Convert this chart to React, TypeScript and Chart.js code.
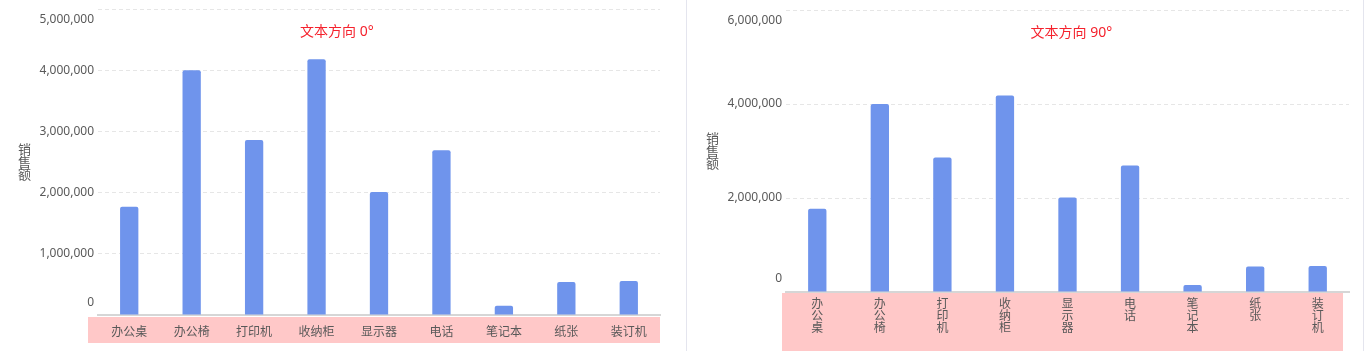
import React, { useEffect, useRef } from 'react';
import { Chart, registerables } from 'chart.js';

Chart.register(...registerables);

// ---- data ----
const categories = ['办公桌', '办公椅', '打印机', '收纳柜', '显示器', '电话', '笔记本', '纸张', '装订机'];
const sales = [1770000, 4000000, 2860000, 4180000, 2010000, 2690000, 150000, 540000, 555000];
const leftTicks = [0, 1000000, 2000000, 3000000, 4000000, 5000000];
const rightTicks = [0, 2000000, 4000000, 6000000];
const axisTitle = '销售额';
const leftCaption = '文本方向 0°';
const rightCaption = '文本方向 90°';

const FONT = '"Noto Sans", "Noto Sans CJK SC", sans-serif';
const TEXT = '#595959';
const BAR = '#6f94ec';
const BAND = '#ffc8c8';
const CAPTION = '#f5222d';

type PanelProps = {
  width: number;
  height: number;
  vertical: boolean;
  ticks: number[];
  caption: string;
  captionFrac: number;
  areaLeft: number;
  padRight: number;
  padTop: number;
  xHeight: number;
  labelPadding: number;
  labelLineHeight: number;
  topShift: number;
  bottomShift: number;
  band: { dl: number; dr: number; dt: number; db: number | null };
};

function Panel(p: PanelProps) {
  const ref = useRef<HTMLCanvasElement | null>(null);
  useEffect(() => {
    if (!ref.current) return;
    const n = p.ticks.length;
    const bandPlugin = {
      id: 'band',
      beforeDraw(chart: any) {
        const { ctx, chartArea } = chart;
        const top = chartArea.bottom + p.band.dt;
        const bottom = p.band.db === null ? chart.height : chartArea.bottom + p.band.db;
        ctx.save();
        ctx.fillStyle = BAND;
        ctx.fillRect(chartArea.left + p.band.dl, top, chartArea.right + p.band.dr - (chartArea.left + p.band.dl), bottom - top);
        ctx.restore();
      },
    };
    const textPlugin = {
      id: 'texts',
      afterDraw(chart: any) {
        const { ctx, chartArea } = chart;
        ctx.save();
        // caption
        ctx.fillStyle = CAPTION;
        ctx.font = `14px ${FONT}`;
        ctx.textAlign = 'center';
        ctx.textBaseline = 'middle';
        ctx.fillText(p.caption, chartArea.left + p.captionFrac * (chartArea.right - chartArea.left), chartArea.top + 23);
        // vertical axis title
        ctx.fillStyle = TEXT;
        ctx.font = `13px ${FONT}`;
        const chars = axisTitle.split('');
        const mid = (chartArea.top + chartArea.bottom) / 2 + 1;
        const lh = 12.7;
        chars.forEach((c, i) => {
          ctx.fillText(c, chartArea.left - 73.5, mid + (i - (chars.length - 1) / 2) * lh);
        });
        ctx.restore();
      },
    };
    const chart = new Chart(ref.current, {
      type: 'bar',
      data: {
        labels: categories,
        datasets: [
          {
            data: sales,
            backgroundColor: BAR,
            borderRadius: 2,
            borderSkipped: 'start',
            barPercentage: 0.293,
            categoryPercentage: 1,
          },
        ],
      },
      options: {
        responsive: false,
        animation: false,
        devicePixelRatio: 1,
        layout: { padding: { left: 0, right: p.padRight, top: p.padTop, bottom: 0 } },
        plugins: { legend: { display: false }, tooltip: { enabled: false }, title: { display: false } },
        scales: {
          x: {
            grid: { display: false, drawTicks: false },
            border: { display: true, color: '#d6d6d6', width: 2 },
            ticks: {
              autoSkip: false,
              maxRotation: 0,
              minRotation: 0,
              padding: p.labelPadding,
              color: TEXT,
              font: { family: FONT, size: 12, lineHeight: p.labelLineHeight + 'px' },
              callback: (v: any, i: number) => (p.vertical ? categories[i].split('') : categories[i]),
            },
            afterFit: (s: any) => {
              s.height = p.xHeight;
              s.paddingLeft = 0;
              s.paddingRight = 0;
            },
          },
          y: {
            min: p.ticks[0],
            max: p.ticks[n - 1],
            afterBuildTicks: (s: any) => {
              s.ticks = p.ticks.map((v) => ({ value: v }));
            },
            grid: {
              drawTicks: false,
              color: (ctx: any) => (ctx.tick && ctx.tick.value === 0 ? 'rgba(0,0,0,0)' : '#e6e6e6'),
              lineWidth: 1,
            },
            border: { display: false, dash: [4, 3] },
            ticks: {
              padding: 4,
              color: TEXT,
              font: (ctx: any) => {
                if (ctx.index === n - 1) return { family: FONT, size: 12, lineHeight: p.topShift + 'px' };
                if (ctx.index === 0) return { family: FONT, size: 12, lineHeight: p.bottomShift + 'px' };
                return { family: FONT, size: 12 };
              },
              callback: (v: any, i: number) => {
                const s = Number(v).toLocaleString('en-US');
                if (i === n - 1) return ['', '', s];
                if (i === 0) return [s, '', ''];
                return s;
              },
            },
            afterFit: (s: any) => {
              s.width = p.areaLeft;
              s.paddingTop = 0;
              s.paddingBottom = 0;
            },
          },
        },
      } as any,
      plugins: [bandPlugin, textPlugin],
    });
    return () => chart.destroy();
  }, []);
  return (
    <div style={{ width: p.width, height: p.height, borderRight: '1px solid #e4e5ee', flex: 'none' }}>
      <canvas ref={ref} width={p.width} height={p.height} style={{ display: 'block' }} />
    </div>
  );
}

export default function App() {
  return (
    <div style={{ position: 'fixed', left: 0, top: 0, width: 1367, height: 351, display: 'flex', background: '#fff', overflow: 'hidden' }}>
      <Panel
        width={686}
        height={351}
        vertical={false}
        ticks={leftTicks}
        caption={leftCaption}
        captionFrac={0.425}
        areaLeft={98}
        padRight={26}
        padTop={9}
        xHeight={36}
        labelPadding={10}
        labelLineHeight={14.4}
        topShift={10.7}
        bottomShift={12}
        band={{ dl: -10, dr: 0, dt: 2, db: 28 }}
      />
      <Panel
        width={676}
        height={351}
        vertical={true}
        ticks={rightTicks}
        caption={rightCaption}
        captionFrac={0.507}
        areaLeft={99}
        padRight={14}
        padTop={10}
        xHeight={59}
        labelPadding={6}
        labelLineHeight={12.3}
        topShift={10.7}
        bottomShift={13}
        band={{ dl: -4, dr: -6, dt: 1, db: null }}
      />
    </div>
  );
}
